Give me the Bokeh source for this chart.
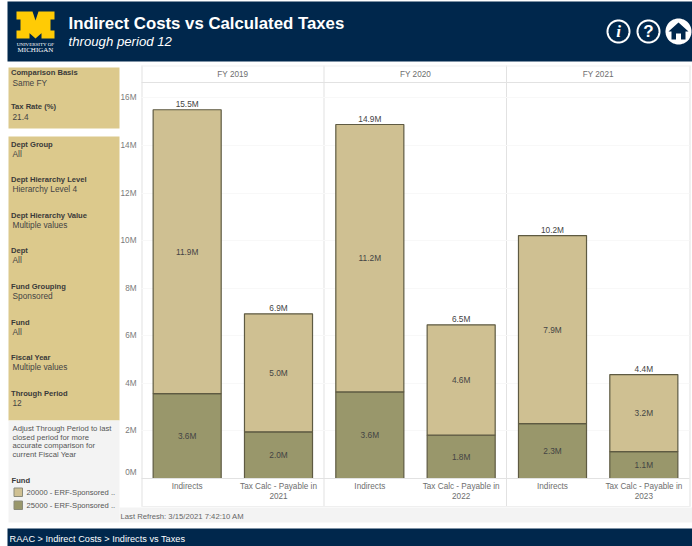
import math
from bokeh.core.properties import value
from bokeh.embed import file_html
from bokeh.models import FixedTicker, LinearAxis, Range1d
from bokeh.plotting import figure
from bokeh.resources import INLINE

# Values in millions
fiscal_years = ["FY 2019", "FY 2020", "FY 2021"]
categories = ["Indirects", "Tax Calc - Payable in\n2021", "Indirects", "Tax Calc - Payable in\n2022",
              "Indirects", "Tax Calc - Payable in\n2023"]
fund_25000 = [3.57, 1.96, 3.64, 1.82, 2.31, 1.13]
fund_20000 = [11.93, 4.96, 11.24, 4.64, 7.90, 3.24]
y_ticks = [2, 4, 6, 8, 10, 12, 14, 16]
filters_top = [("Comparison Basis", "Same FY"), ("Tax Rate (%)", "21.4")]
filters_main = [("Dept Group", "All"), ("Dept Hierarchy Level", "Hierarchy Level 4"),
                ("Dept Hierarchy Value", "Multiple values"), ("Dept", "All"),
                ("Fund Grouping", "Sponsored"), ("Fund", "All"),
                ("Fiscal Year", "Multiple values"), ("Through Period", "12")]
note_lines = ["Adjust Through Period to last", "closed period for more",
              "accurate comparison for", "current Fiscal Year"]
legend_labels = ["20000 - ERF-Sponsored ..", "25000 - ERF-Sponsored .."]

NAVY = "#00274C"
SAND = "#DCC98C"
LIGHT = "#CFC092"
DARK = "#99976B"
EDGE = "#5E5A42"
GREY = "#F3F3F3"
RULE = "#E2E2E2"
FONT = "Liberation Sans"

WIDTH, HEIGHT = 692, 546
LEFT, RIGHT, TOP, BOTTOM = 141, 689, 82, 478
PX_PER_M = 23.79
PX_PER_SLOT = (RIGHT - LEFT) / 6
HEADER_Y = (BOTTOM - TOP) / PX_PER_M

# The plot frame fills the page; the chart scales are set so that x 0..6 and
# y 0M sit on the chart area, and a second pixel scale carries the page furniture.
p = figure(width=WIDTH, height=HEIGHT, output_backend="svg", toolbar_location=None,
           x_range=Range1d(-LEFT / PX_PER_SLOT, (WIDTH - LEFT) / PX_PER_SLOT),
           y_range=Range1d((BOTTOM - HEIGHT) / PX_PER_M, BOTTOM / PX_PER_M),
           min_border=0, min_border_left=0, min_border_right=0, min_border_top=0, min_border_bottom=0)
p.extra_x_ranges = {"px": Range1d(0, WIDTH)}
p.extra_y_ranges = {"px": Range1d(HEIGHT, 0)}
p.outline_line_color = None
p.background_fill_color = "white"
p.border_fill_color = "white"
p.xgrid.visible = False
p.ygrid.ticker = FixedTicker(ticks=y_ticks)
p.ygrid.grid_line_color = "#F8F8F8"
p.ygrid.cross_bounds = (0, 6)

PX = dict(x_range_name="px", y_range_name="px")


# Page furniture placed in pixels
def box(left, top, right, bottom, color, edge=None, level="underlay"):
    p.quad(left=[left], right=[right], top=[top], bottom=[bottom], fill_color=color,
           line_color=edge, level=level, **PX)


def text(x, y, s, size=7.7, color="#333333", style="normal", font=FONT, align="left"):
    p.text(x=[x], y=[y], text=[s], text_font=value(font), text_font_size=f"{size}px",
           text_font_style=style, text_color=color, text_baseline="middle", text_align=align,
           level="overlay", **PX)


def poly(xs, ys, fill=None, line=None, width=1.0, level="annotation"):
    p.patch(x=list(xs), y=list(ys), fill_color=fill, fill_alpha=1 if fill else 0,
            line_color=line, line_width=width, level=level, **PX)


def ring(cx, cy, r, fill=None, line=None, width=1.0):
    angles = [2 * math.pi * i / 60 for i in range(60)]
    poly([cx + r * math.cos(a) for a in angles], [cy + r * math.sin(a) for a in angles], fill, line, width)


# Bands and filter panels
box(7, 1, 692, 61, NAVY)
box(7, 528, 692, 546, NAVY)
box(8, 67, 119, 128, SAND)
box(8, 136, 119, 420, SAND)
box(8, 420, 119, 522, GREY)
box(119, 507, 692, 522, GREY)

# Panel dividers run through the header strip and category strip
for xpos in [141, 323, 505.5, 689]:
    box(xpos, 65, xpos + 1, 506, RULE)
box(141, 65, 690, 66, "#F2F2F2")
box(141, 505.5, 690, 506.5, "#EFEFEF")

centers = [i + 0.5 for i in range(6)]
totals = [a + b for a, b in zip(fund_25000, fund_20000)]

# Stacked bars
p.vbar(x=centers, bottom=0, top=fund_25000, width=0.745, fill_color=DARK, line_color=EDGE, line_width=1.2)
p.vbar(x=centers, bottom=fund_25000, top=totals, width=0.745, fill_color=LIGHT, line_color=EDGE, line_width=1.2)


def m_fmt(v):
    return f"{v:.1f}M"


value_style = dict(text_font=value(FONT), text_font_size="8.3px", text_color="#444444",
                   text_baseline="middle", text_align="center")
p.text(x=centers, y=[v / 2 for v in fund_25000], text=[m_fmt(v) for v in fund_25000], **value_style)
p.text(x=centers, y=[a + b / 2 for a, b in zip(fund_25000, fund_20000)],
       text=[m_fmt(v) for v in fund_20000], **value_style)
p.text(x=centers, y=totals, y_offset=-6, text=[m_fmt(v) for v in totals], **value_style)


def style_axis(axis, color="#6E6E6E", standoff=3):
    axis.major_label_text_font = FONT
    axis.major_label_text_font_size = "8.2px"
    axis.major_label_text_color = color
    axis.major_label_standoff = standoff
    axis.major_tick_line_color = None
    axis.minor_tick_line_color = None
    axis.major_tick_out = 0
    axis.minor_tick_out = 0


# Axes pinned to the chart area
yaxis = p.yaxis[0]
yaxis.ticker = FixedTicker(ticks=y_ticks)
yaxis.major_label_overrides = {t: f"{t}M" for t in y_ticks}
yaxis.fixed_location = 0
yaxis.axis_line_color = None
style_axis(yaxis, "#7A7A7A", 5)

xaxis = p.xaxis[0]
xaxis.ticker = FixedTicker(ticks=centers)
xaxis.major_label_overrides = {c: t for c, t in zip(centers, categories)}
xaxis.fixed_location = 0
xaxis.bounds = (0, 6)
xaxis.axis_line_color = RULE
style_axis(xaxis)

fy_axis = LinearAxis(ticker=FixedTicker(ticks=[1, 3, 5]),
                     major_label_overrides={1: fiscal_years[0], 3: fiscal_years[1], 5: fiscal_years[2]},
                     fixed_location=HEADER_Y, bounds=(0, 6), axis_line_color=RULE)
style_axis(fy_axis, standoff=4)
p.add_layout(fy_axis, "above")

# Header
text(68, 23, "Indirect Costs vs Calculated Taxes", 16.8, "white", "bold")
text(68, 41, "through period 12", 13.2, "white", "italic")
text(9, 538, "RAAC > Indirect Costs > Indirects vs Taxes", 9.2, "white")

# University block M
mx = [16, 32, 35, 38, 54, 54, 50, 50, 54, 54, 41, 41, 44, 35, 26, 29, 29, 16, 16, 20, 20, 16]
my = [11, 11, 20, 11, 11, 19, 19, 30, 30, 38, 38, 30, 30, 38, 30, 30, 38, 38, 30, 30, 19, 19]
poly(mx, my, "#FFCB05")
text(35, 44, "UNIVERSITY OF", 5, "white", font="Liberation Serif", align="center")
text(35, 49.5, "MICHIGAN", 7, "white", font="Liberation Serif", align="center")

# Header icons
ring(618, 31, 11, None, "white", 2)
text(618, 31, "i", 17, "white", "bold italic", "Liberation Serif", "center")
ring(648, 31, 11, None, "white", 2)
text(648, 31, "?", 17, "white", "bold", align="center")
ring(678, 31, 13, "white")
poly([678, 688, 685, 685, 680.5, 680.5, 675.5, 675.5, 671, 671, 668],
     [22, 31, 31, 39, 39, 33, 33, 39, 39, 31, 31], NAVY)

# Filter captions
for (name, val), y in zip(filters_top, [72, 106]):
    text(10.5, y, name, 7.6, "#3A3A3A", "bold")
    text(12, y + 10, val, 8.3, "#444444")
for (name, val), y in zip(filters_main, [144, 179, 215, 250, 286, 322, 357, 393]):
    text(10.5, y, name, 7.6, "#3A3A3A", "bold")
    text(12, y + 9.5, val, 8.3, "#444444")
for line, y in zip(note_lines, [428, 437, 445, 454]):
    text(12, y, line, 7.7, "#555555")

# Legend
text(11, 480, "Fund", 7.6, "#3A3A3A", "bold")
for label, color, y in zip(legend_labels, [LIGHT, DARK], [492, 505]):
    box(13.5, y - 4.5, 22, y + 4, color, "#8A8A7A")
    text(26, y, label, 7.6, "#555555")

text(120, 516, "Last Refresh: 3/15/2021 7:42:10 AM", 7.7, "#666666")

# The zero label sits just above the baseline
text(136, 472, "0M", 8.2, "#7A7A7A", align="right")

open("out.html", "w").write(file_html(p, INLINE))
